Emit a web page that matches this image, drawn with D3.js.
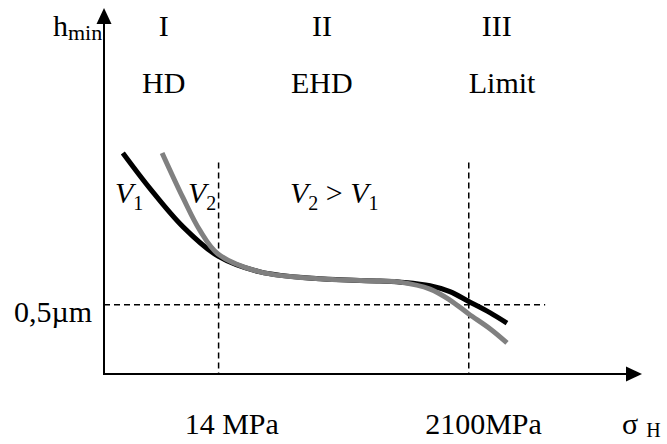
<!DOCTYPE html>
<html>
<head>
<meta charset="utf-8">
<script src="https://cdn.jsdelivr.net/npm/d3@7"></script>
<style>
  body { margin: 0; background: #fff; }
  text { font-family: "Liberation Serif", "DejaVu Serif", serif; fill: #000; }
</style>
</head>
<body>
<div id="chart"></div>
<script>
// curve data in abstract chart units (x: 0..10 along sigma_H, y: 0..10 along h_min)
const v1X = [0.35, 0.86, 1.47, 2.12, 2.90, 4.02, 5.13, 5.59, 6.06, 6.43, 6.78, 7.18, 7.49];
const v1Y = [6.04, 5.06, 4.02, 3.22, 2.79, 2.60, 2.54, 2.50, 2.41, 2.25, 1.98, 1.67, 1.39];
const v2X = [1.08, 1.47, 1.78, 2.12, 2.90, 4.02, 5.13, 5.50, 6.06, 6.43, 6.78, 7.18, 7.49];
const v2Y = [6.04, 4.81, 3.93, 3.28, 2.79, 2.60, 2.54, 2.51, 2.32, 2.02, 1.64, 1.23, 0.85];

const regionNumX = [1.11, 4.05, 7.30];
const regionNameX = [1.11, 4.05, 7.40];
const regionNum = ['I', 'II', 'III'];
const regionName = ['HD', 'EHD', 'Limit'];

const limitX = [2.13, 6.78];          // vertical dashed boundaries
const limitLabelX = [1.50, 5.97];     // left edge of the stress labels
const limitLabels = ['14 MPa', '2100MPa'];
const hLimit = 1.89;                  // 0,5 µm level

const width = 667, height = 444;
const margin = {left: 104, right: 25, top: 8, bottom: 70};

const x = d3.scaleLinear().domain([0, 10]).range([margin.left, width - margin.right]);
const y = d3.scaleLinear().domain([0, 10]).range([height - margin.bottom, margin.top]);

const svg = d3.select('#chart').append('svg')
    .attr('width', width)
    .attr('height', height);

// axes with arrow heads
const x0 = x(0), y0 = y(0);
const xEnd = x(10), yEnd = y(10);
svg.append('line').attr('x1', x0 - 1).attr('y1', y0).attr('x2', xEnd - 10).attr('y2', y0)
    .attr('stroke', '#000').attr('stroke-width', 2);
svg.append('line').attr('x1', x0).attr('y1', y0).attr('x2', x0).attr('y2', yEnd + 10)
    .attr('stroke', '#000').attr('stroke-width', 2);
svg.append('path')
    .attr('d', `M${xEnd},${y0} L${xEnd - 16},${y0 - 7.5} L${xEnd - 16},${y0 + 7.5} Z`)
    .attr('fill', '#000');
svg.append('path')
    .attr('d', `M${x0},${yEnd} L${x0 - 7.5},${yEnd + 16} L${x0 + 7.5},${yEnd + 16} Z`)
    .attr('fill', '#000');

// dashed guide lines
const dash = '6,4';
limitX.forEach(v => {
    svg.append('line')
        .attr('x1', x(v)).attr('x2', x(v))
        .attr('y1', y(5.78)).attr('y2', y0)
        .attr('stroke', '#000').attr('stroke-width', 1.5)
        .attr('stroke-dasharray', dash);
});
svg.append('line')
    .attr('x1', x0).attr('x2', x(8.2))
    .attr('y1', y(hLimit)).attr('y2', y(hLimit))
    .attr('stroke', '#000').attr('stroke-width', 1.5)
    .attr('stroke-dasharray', dash);

// curves
const line = d3.line().x(d => x(d[0])).y(d => y(d[1])).curve(d3.curveCatmullRom.alpha(0.5));
svg.append('path')
    .datum(d3.zip(v1X, v1Y))
    .attr('d', line)
    .attr('fill', 'none').attr('stroke', '#000').attr('stroke-width', 5);
svg.append('path')
    .datum(d3.zip(v2X, v2Y))
    .attr('d', line)
    .attr('fill', 'none').attr('stroke', '#808080').attr('stroke-width', 5);

// region labels
regionNum.forEach((s, i) => {
    svg.append('text').attr('x', x(regionNumX[i])).attr('y', 36)
        .attr('text-anchor', 'middle').attr('font-size', 30).text(s);
    svg.append('text').attr('x', x(regionNameX[i])).attr('y', 93)
        .attr('text-anchor', 'middle').attr('font-size', 30).text(regionName[i]);
});

// axis titles
const hmin = svg.append('text').attr('x', 53).attr('y', 36).attr('font-size', 30);
hmin.append('tspan').text('h');
hmin.append('tspan').attr('font-size', 22).attr('dy', 4).text('min');

const sig = svg.append('text').attr('x', 622).attr('y', 434).attr('font-size', 30);
sig.append('tspan').text('σ');
sig.append('tspan').attr('font-size', 20).attr('dx', 8).attr('dy', 3).text('H');

svg.append('text').attr('x', 14).attr('y', 322).attr('font-size', 30).text('0,5µm');

limitLabels.forEach((s, i) => {
    svg.append('text').attr('x', x(limitLabelX[i])).attr('y', 434)
        .attr('font-size', 30).text(s);
});

// velocity labels
function vLabel(t, sub) {
    t.append('tspan').attr('font-style', 'italic').text('V');
    t.append('tspan').attr('font-size', 20).attr('dy', 7).text(sub);
    return t;
}
vLabel(svg.append('text').attr('x', 115).attr('y', 203).attr('font-size', 30), '1');
vLabel(svg.append('text').attr('x', 188).attr('y', 203).attr('font-size', 30), '2');
const cmp = svg.append('text').attr('x', 290).attr('y', 203).attr('font-size', 30);
vLabel(cmp, '2');
cmp.append('tspan').attr('dy', -7).text(' > ');
vLabel(cmp, '1');
</script>
</body>
</html>
